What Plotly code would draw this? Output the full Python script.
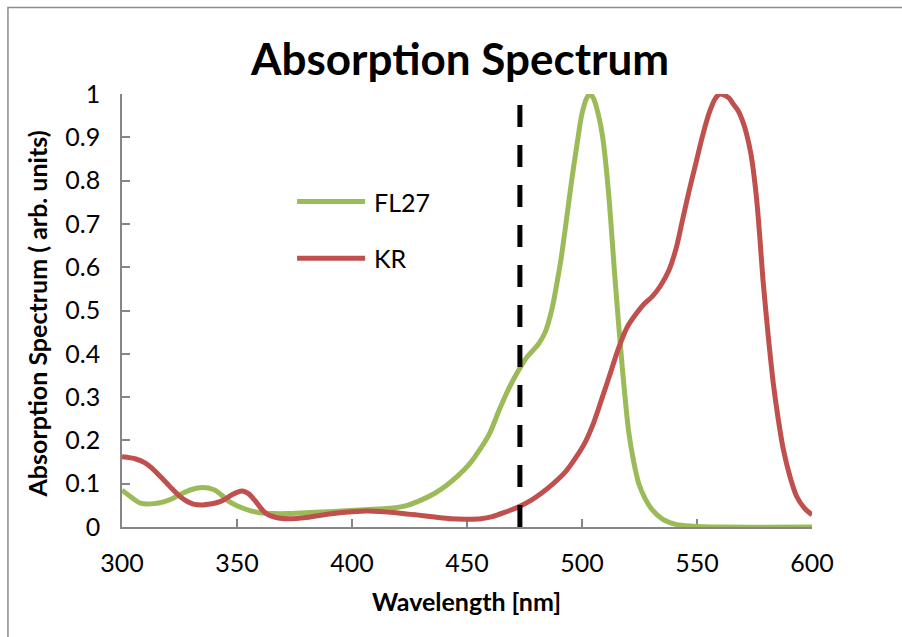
import plotly.graph_objects as go

# ---------------- data ----------------
fl27_wl = [300, 305, 308, 314, 318, 322, 326, 330, 335, 340, 343, 346, 350, 355, 360,
           366, 372, 380, 392, 406, 418, 424, 430, 436, 441, 446, 451, 456, 460, 464,
           468, 472, 476, 481, 484, 487, 489, 491, 493, 495.5, 498, 500, 502, 503.5,
           505, 507, 509, 511.5, 514.4, 517.4, 520.3, 522.5, 524.7, 527.5, 530.5, 535,
           540.8, 548, 560, 600]
fl27_abs = [0.085, 0.065, 0.055, 0.054, 0.058, 0.066, 0.077, 0.086, 0.091, 0.086, 0.075,
            0.061, 0.049, 0.039, 0.033, 0.031, 0.031, 0.033, 0.036, 0.040, 0.044, 0.050,
            0.062, 0.078, 0.096, 0.118, 0.145, 0.182, 0.218, 0.270, 0.318, 0.358, 0.392,
            0.422, 0.45, 0.505, 0.56, 0.623, 0.70, 0.80, 0.89, 0.955, 0.99, 1.0, 0.99,
            0.955, 0.90, 0.775, 0.57, 0.375, 0.22, 0.15, 0.10, 0.065, 0.04, 0.018, 0.006,
            0.002, 0.0, 0.0]

kr_wl = [300, 306, 310, 313, 316, 319.5, 322, 325.3, 328, 331, 335, 338.3, 341, 344, 347,
         350, 352.5, 355, 357.5, 360, 362, 365, 368, 373, 380, 385, 392, 400, 406, 412,
         421, 428, 436, 443, 450, 456, 461, 466, 473, 478, 482.3, 487, 492.4, 497, 501.3,
         505, 508.6, 512, 515.9, 519.5, 523.2, 527, 530.5, 534, 537.8, 541, 543.7, 546.5,
         549.5, 552.5, 555.4, 558, 560, 562, 564, 566, 568, 570, 571.4, 573.5, 575.8,
         577.3, 578.7, 581, 583.1, 585.3, 587.5, 590.5, 593.3, 596.5, 600]
kr_abs = [0.162, 0.157, 0.148, 0.136, 0.120, 0.101, 0.087, 0.070, 0.060, 0.053, 0.051,
          0.053, 0.056, 0.062, 0.072, 0.080, 0.083, 0.077, 0.063, 0.046, 0.034, 0.025,
          0.021, 0.019, 0.022, 0.026, 0.031, 0.035, 0.037, 0.036, 0.032, 0.028, 0.023,
          0.019, 0.018, 0.019, 0.024, 0.033, 0.048, 0.062, 0.078, 0.098, 0.125, 0.158,
          0.195, 0.24, 0.296, 0.35, 0.413, 0.46, 0.49, 0.515, 0.532, 0.556, 0.593, 0.645,
          0.709, 0.775, 0.84, 0.905, 0.958, 0.99, 1.0, 0.997, 0.99, 0.975, 0.96, 0.935,
          0.911, 0.86, 0.764, 0.67, 0.57, 0.44, 0.335, 0.25, 0.18, 0.115, 0.071, 0.045,
          0.028]

laser_wl = [473, 473]
laser_y = [0, 1]

series_names = ["FL27", "KR"]
x_ticks = [300, 350, 400, 450, 500, 550, 600]
y_ticks = [0, 0.1, 0.2, 0.3, 0.4, 0.5, 0.6, 0.7, 0.8, 0.9, 1]

GREEN = "#9BBB59"
RED = "#C0504D"
AXIS = "#868686"
FONT = "Lato"

W, H = 902, 637
L, R, T, B = 122, 811.7, 94.3, 526.7
PW, PH = R - L, B - T


def px(x):
    return (x - L) / PW


def py(y):
    return (B - y) / PH


fig = go.Figure()
fig.add_trace(go.Scatter(x=fl27_wl, y=fl27_abs, mode="lines", name=series_names[0],
                         line=dict(color=GREEN, width=5, shape="spline", smoothing=0.8),
                         cliponaxis=False, showlegend=False))
fig.add_trace(go.Scatter(x=kr_wl, y=kr_abs, mode="lines", name=series_names[1],
                         line=dict(color=RED, width=5, shape="spline", smoothing=0.8),
                         cliponaxis=False, showlegend=False))
fig.add_trace(go.Scatter(x=laser_wl, y=laser_y, mode="lines", name="473 nm",
                         line=dict(color="black", width=5, dash="22px,18px"),
                         cliponaxis=False, showlegend=False))

axis_common = dict(showline=True, linecolor=AXIS, linewidth=1.5, ticks="inside",
                   tickcolor=AXIS, ticklen=8, tickwidth=1.5, showgrid=False,
                   zeroline=False, layer="below traces",
                   tickfont=dict(family=FONT, size=25, color="black"))

fig.update_layout(
    width=W, height=H,
    margin=dict(l=L, r=W - R, t=T, b=H - B, pad=0),
    paper_bgcolor="white", plot_bgcolor="white",
    xaxis=dict(range=[300, 600], tickvals=x_ticks, ticklabelstandoff=13, **axis_common),
    yaxis=dict(range=[0, 1], tickvals=y_ticks, ticktext=[f"{v:g}" for v in y_ticks],
               ticklabelstandoff=15, **axis_common),
    showlegend=False,
)

annotations = [
    dict(text="<b>Absorption Spectrum</b>", x=px(459), y=py(58), xref="paper", yref="paper",
         xanchor="center", yanchor="middle", showarrow=False,
         font=dict(family=FONT, size=44, color="black")),
    dict(text="<b>Wavelength [nm]</b>", x=px(466), y=py(601), xref="paper", yref="paper",
         xanchor="center", yanchor="middle", showarrow=False,
         font=dict(family=FONT, size=25, color="black")),
    dict(text="<b>Absorption Spectrum ( arb. units)</b>", x=px(37), y=py(313.5),
         xref="paper", yref="paper", xanchor="center", yanchor="middle", textangle=-90,
         showarrow=False, font=dict(family=FONT, size=25, color="black")),
]
shapes = [
    # outer chart frame
    dict(type="rect", xref="paper", yref="paper", x0=px(8), x1=px(960), y0=py(700), y1=py(8),
         line=dict(color="#8c8c8c", width=1.5), fillcolor="rgba(0,0,0,0)", layer="below"),
]
legend_items = [(series_names[0], GREEN, 201.7), (series_names[1], RED, 258.3)]
for name, col, yy in legend_items:
    shapes.append(dict(type="line", xref="paper", yref="paper", x0=px(297), x1=px(365),
                       y0=py(yy), y1=py(yy), line=dict(color=col, width=5)))
    annotations.append(dict(text=name, x=px(372), y=py(yy), xref="paper", yref="paper",
                            xanchor="left", yanchor="middle", showarrow=False,
                            font=dict(family=FONT, size=25, color="black")))

fig.update_layout(annotations=annotations, shapes=shapes)
fig.write_html("out.html")
